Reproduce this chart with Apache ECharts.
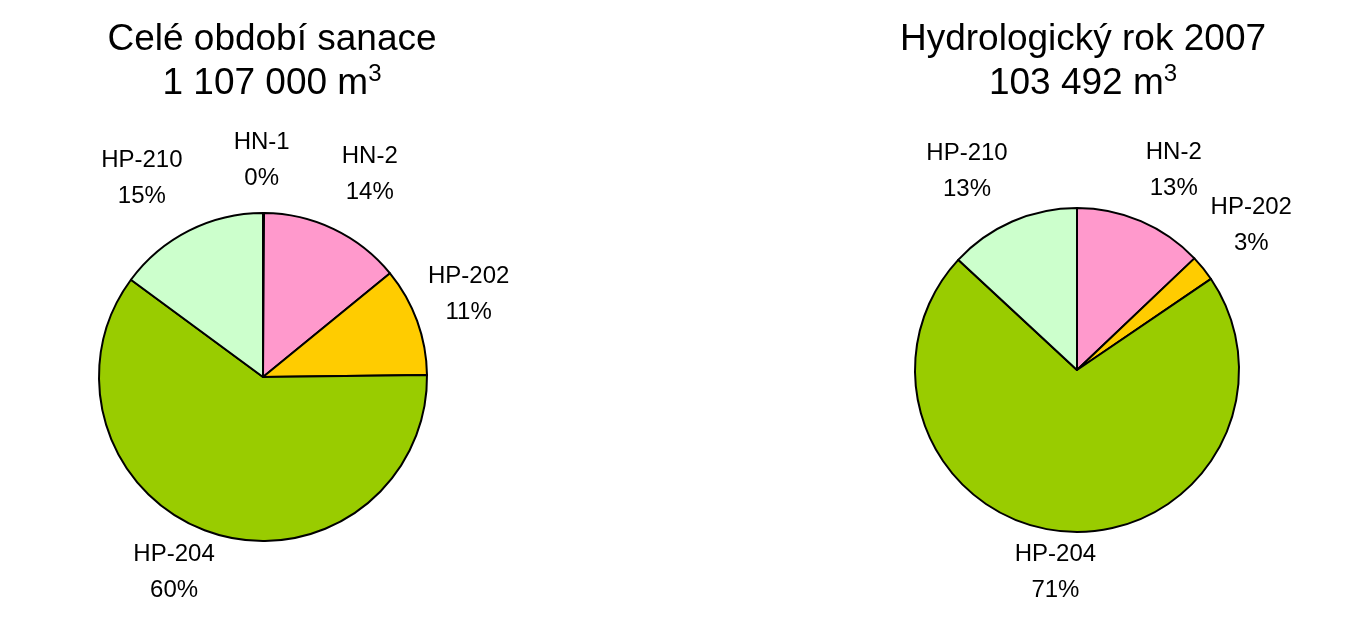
<!DOCTYPE html>
<html>
<head>
<meta charset="utf-8">
<script src="https://cdn.jsdelivr.net/npm/echarts@6/dist/echarts.min.js"></script>
<style>
html,body{margin:0;padding:0;background:#fff;}
#chart{width:1355px;height:637px;}
</style>
</head>
<body>
<div id="chart"></div>
<script>
// Data (percent shares)
const leftTitle = 'Celé období sanace';
const leftTotal = '1 107 000 m';
const leftNames = ['HN-1', 'HN-2', 'HP-202', 'HP-204', 'HP-210'];
const leftValues = [0.1, 14.0, 10.7, 60.3, 14.9];

const rightTitle = 'Hydrologický rok 2007';
const rightTotal = '103 492 m';
const rightNames = ['HN-2', 'HP-202', 'HP-204', 'HP-210'];
const rightValues = [12.9, 2.6, 71.4, 13.1];

// Layout: small label nudges (px) relative to the computed outside label position
const leftLabelNudge = [[-2, 5], [11, -2], [-3, -7], [-21, -16], [-21, -1]];
const rightLabelNudge = [[10, 3], [3, -7], [-5, -17], [-22, 3]];

const colorMap = {
  'HN-1': '#9999FF',
  'HN-2': '#FF99CC',
  'HP-202': '#FFCC00',
  'HP-204': '#99CC00',
  'HP-210': '#CCFFCC'
};

const FONT = '"Liberation Sans", Arial, sans-serif';

const chart = echarts.init(document.getElementById('chart'));

function makeSeries(names, values, nudges, cx, cy, r) {
  const total = values.reduce((a, b) => a + b, 0);
  const mids = [];
  let acc = 0;
  values.forEach(v => { mids.push((acc + v / 2) / total * 2 * Math.PI); acc += v; });
  return {
    type: 'pie',
    center: [cx, cy],
    radius: r,
    startAngle: 90,
    clockwise: true,
    animation: false,
    silent: true,
    data: names.map((n, i) => ({ name: n, value: values[i], itemStyle: { color: colorMap[n] } })),
    itemStyle: { borderColor: '#000', borderWidth: 2 },
    label: {
      show: true,
      position: 'outside',
      formatter: p => p.name + '\n' + Math.round(p.value / total * 100) + '%',
      fontFamily: FONT,
      fontSize: 24,
      lineHeight: 36,
      color: '#000',
      align: 'center'
    },
    labelLine: { show: false },
    labelLayout: function (params) {
      const i = params.dataIndex;
      const a = mids[i];
      const d = r + 58;
      return {
        x: cx + d * Math.sin(a) + nudges[i][0],
        y: cy - d * Math.cos(a) + nudges[i][1],
        align: 'center',
        verticalAlign: 'middle'
      };
    }
  };
}

function makeTitle(line1, line2, x) {
  return {
    text: '{t|' + line1 + '}\n{t|' + line2 + '}{sup|3}',
    left: x,
    top: 18,
    padding: 0,
    textAlign: 'center',
    textStyle: {
      fontWeight: 'normal',
      rich: {
        t: { fontFamily: FONT, fontSize: 37, fontWeight: 'normal', color: '#000', lineHeight: 44 },
        sup: { fontFamily: FONT, fontSize: 24, fontWeight: 'normal', color: '#000', lineHeight: 44, padding: [0, 0, 19, 0] }
      }
    }
  };
}

chart.setOption({
  backgroundColor: '#fff',
  title: [
    makeTitle(leftTitle, leftTotal, 272),
    makeTitle(rightTitle, rightTotal, 1083)
  ],
  series: [
    makeSeries(leftNames, leftValues, leftLabelNudge, 263, 377, 164),
    makeSeries(rightNames, rightValues, rightLabelNudge, 1077, 370, 162)
  ]
});
</script>
</body>
</html>
